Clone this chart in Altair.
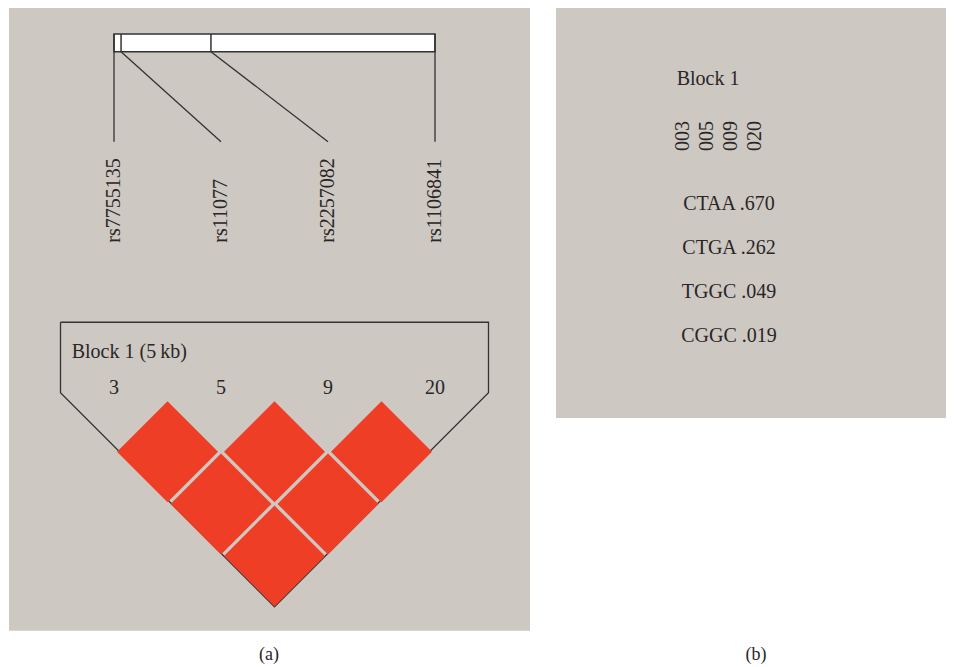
import altair as alt
import pandas as pd

# ---------------- data ----------------
snp_names = ["rs7755135", "rs11077", "rs2257082", "rs1106841"]
marker_nums = [3, 5, 9, 20]
snp_pos_kb = [0.0, 0.11, 1.51, 5.0]          # relative position in the 5 kb block
block_name = "Block 1"
block_kb = 5
pair_i = [0, 1, 2, 0, 1, 0]
pair_j = [1, 2, 3, 2, 3, 3]
dprime = [1.0, 1.0, 1.0, 1.0, 1.0, 1.0]      # D' = 1 (blank, red cells)
haplotypes = ["CTAA", "CTGA", "TGGC", "CGGC"]
hap_freq = [0.670, 0.262, 0.049, 0.019]

# ---------------- styles ----------------
GRAY = "#cdc8c2"
RED = "#ee3e26"
INK = "#2a2626"
LINE = "#333333"
FONT = "Liberation Serif"
FS = 20

n = len(snp_names)
span = snp_pos_kb[-1] - snp_pos_kb[0]
snps = pd.DataFrame({
    "name": snp_names,
    "num": [str(m) for m in marker_nums],
    "mid": [f"{m:03d}" for m in marker_nums],
    "idx": list(range(n)),
    "gx": [(p - snp_pos_kb[0]) / span * (n - 1) for p in snp_pos_kb],
})
bar = pd.DataFrame({"gx0": [snps.gx.min()], "gx1": [snps.gx.max()]})
cells = pd.DataFrame({
    "cx": [(i + j) / 2 for i, j in zip(pair_i, pair_j)],
    "row": [j - i for i, j in zip(pair_i, pair_j)],
    "dprime": dprime,
})
TOP, SIDE = -1.48, -0.13
outline = pd.DataFrame({
    "x": [-0.5, n - 0.5, n - 0.5, (n - 1) / 2, -0.5, -0.5],
    "y": [TOP, TOP, SIDE, n - 0.03, SIDE, TOP],
    "o": list(range(6)),
})
haps = pd.DataFrame({
    "rank": list(range(len(haplotypes))),
    "label": [f"{h} {('%.3f' % f).lstrip('0')}" for h, f in zip(haplotypes, hap_freq)],
})
one = pd.DataFrame({"k": [0]})

# ---------------- left panel (a) ----------------
XL = alt.Scale(domain=[-0.9907, 3.8879], nice=False, zero=False)
YL = alt.Scale(domain=[-7.5, 4.971], reverse=True, nice=False, zero=False)

bgL = alt.Chart(one).mark_rect(color=GRAY).encode(
    x=alt.value(1), x2=alt.value(522), y=alt.value(0), y2=alt.value(622.7))

bar_rect = alt.Chart(bar).mark_rect(fill="white", stroke=LINE, strokeWidth=1.5).encode(
    x=alt.X("gx0:Q", scale=XL, axis=None), x2="gx1:Q",
    y=alt.value(26), y2=alt.value(43.7))

dividers = alt.Chart(snps).mark_rule(color=LINE, strokeWidth=1.5).encode(
    x=alt.X("gx:Q", scale=XL, axis=None), y=alt.value(26), y2=alt.value(43.7))

links = alt.Chart(snps).mark_rule(color=LINE, strokeWidth=1.3).encode(
    x=alt.X("gx:Q", scale=XL, axis=None), x2="idx:Q",
    y=alt.value(43.7), y2=alt.value(133.7))

snp_labels = alt.Chart(snps).mark_text(
    font=FONT, fontSize=FS, color=INK, angle=270, align="left", baseline="middle"
).encode(x=alt.X("idx:Q", scale=XL, axis=None), y=alt.value(234.7), text="name:N")

frame = alt.Chart(outline).mark_line(color=LINE, strokeWidth=1.3).encode(
    x=alt.X("x:Q", scale=XL, axis=None), y=alt.Y("y:Q", scale=YL, axis=None), order="o:Q")

num_labels = alt.Chart(snps).mark_text(
    font=FONT, fontSize=FS, color=INK, baseline="middle"
).encode(x=alt.X("idx:Q", scale=XL, axis=None), y=alt.value(380.3), text="num:N")

block_label = alt.Chart(one).mark_text(
    font=FONT, fontSize=FS, color=INK, align="left", baseline="middle",
    text=f"{block_name} ({block_kb}\u2009kb)"
).encode(x=alt.value(63.7), y=alt.value(343.7))

diamonds = alt.Chart(cells).mark_point(shape="diamond", filled=True, size=10201, opacity=1).encode(
    x=alt.X("cx:Q", scale=XL, axis=None), y=alt.Y("row:Q", scale=YL, axis=None),
    color=alt.Color("dprime:Q", scale=alt.Scale(domain=[0, 1], range=["#ffffff", RED]), legend=None))

cap_a = alt.Chart(one).mark_text(font=FONT, fontSize=18, color=INK, baseline="middle", text="(a)").encode(
    x=alt.value(261), y=alt.value(647))

left = alt.layer(bgL, bar_rect, dividers, links, snp_labels, frame, num_labels,
                 block_label, diamonds, cap_a).properties(width=522, height=651)

# ---------------- right panel (b) ----------------
XR = alt.Scale(domain=[-5.2917, 10.9583], nice=False, zero=False)
YR = alt.Scale(domain=[-4.4545, 10.341], reverse=True, nice=False, zero=False)

bgR = alt.Chart(one).mark_rect(color=GRAY).encode(
    x=alt.value(0), x2=alt.value(390), y=alt.value(0), y2=alt.value(410))

block_title = alt.Chart(one).mark_text(
    font=FONT, fontSize=FS, color=INK, align="left", baseline="middle", text=block_name
).encode(x=alt.value(120.7), y=alt.value(71.3))

mids = alt.Chart(snps).mark_text(
    font=FONT, fontSize=FS, color=INK, angle=270, align="center", baseline="middle"
).encode(x=alt.X("idx:Q", scale=XR, axis=None), y=alt.value(128), text="mid:N")

hap_text = alt.Chart(haps).mark_text(
    font=FONT, fontSize=FS, color=INK, align="center", baseline="middle"
).encode(x=alt.value(173), y=alt.Y("rank:Q", scale=YR, axis=None), text="label:N")

cap_b = alt.Chart(one).mark_text(font=FONT, fontSize=18, color=INK, baseline="middle", text="(b)").encode(
    x=alt.value(200), y=alt.value(647))

right = alt.layer(bgR, block_title, mids, hap_text, cap_b).properties(width=390, height=651)

chart = alt.hconcat(left, right, spacing=26).properties(
    padding=0, background="white"
).configure_view(stroke=None)

chart.save("out.html", embed_options={"renderer": "svg", "actions": False})
